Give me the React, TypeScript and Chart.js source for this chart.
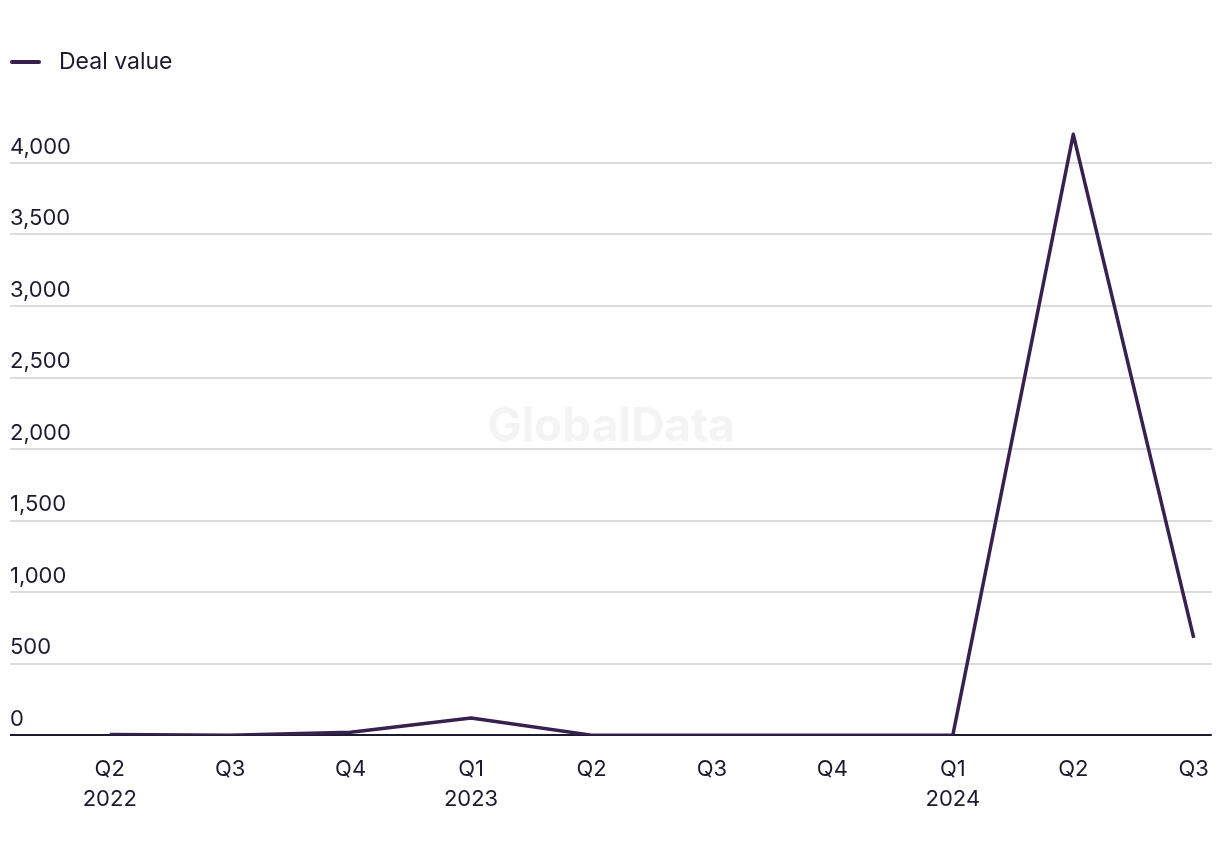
import React, { useEffect, useRef } from "react";
import { Chart, registerables } from "chart.js";

Chart.register(...registerables);

const quarters = ["Q2", "Q3", "Q4", "Q1", "Q2", "Q3", "Q4", "Q1", "Q2", "Q3"];
const years = ["2022", "", "", "2023", "", "", "", "2024", "", ""];
const dealValue = [5, 0, 20, 120, 0, 0, 0, 0, 4200, 680];
const yTickValues = [0, 500, 1000, 1500, 2000, 2500, 3000, 3500, 4000];
const seriesName = "Deal value";
const watermark = "GlobalData";

const LINE = "#36214f";
const TEXT = "#1c1b2e";
const GRID = "#dcdcdc";
const FONT = "Inter, 'Open Sans', sans-serif";

const legendPlugin = {
  id: "customLegend",
  afterDraw(chart: any) {
    const ctx = chart.ctx;
    ctx.save();
    ctx.strokeStyle = LINE;
    ctx.lineWidth = 4;
    ctx.lineCap = "round";
    ctx.beginPath();
    ctx.moveTo(12, 62);
    ctx.lineTo(39, 62);
    ctx.stroke();
    ctx.fillStyle = TEXT;
    ctx.font = `23px ${FONT}`;
    ctx.textBaseline = "middle";
    ctx.textAlign = "left";
    ctx.fillText(seriesName, 59, 62);
    ctx.restore();
  },
};

const watermarkPlugin = {
  id: "watermark",
  beforeDatasetsDraw(chart: any) {
    const { ctx, chartArea } = chart;
    ctx.save();
    ctx.fillStyle = "#f4f4f4";
    ctx.font = `bold 46px ${FONT}`;
    ctx.textAlign = "center";
    ctx.textBaseline = "middle";
    ctx.fillText(watermark, (chartArea.left + chartArea.right) / 2, (chartArea.top + chartArea.bottom) / 2);
    ctx.restore();
  },
};

export default function App() {
  const ref = useRef<HTMLCanvasElement | null>(null);

  useEffect(() => {
    document.body.style.margin = "0";
    if (!ref.current) return;
    const chart = new Chart(ref.current, {
      type: "line",
      data: {
        datasets: [
          {
            label: seriesName,
            data: dealValue.map((v, i) => ({ x: i, y: v })),
            borderColor: LINE,
            backgroundColor: LINE,
            borderWidth: 3.5,
            borderJoinStyle: "round",
            pointRadius: 0,
            tension: 0,
          },
        ],
      },
      options: {
        animation: false,
        responsive: true,
        maintainAspectRatio: false,
        layout: { padding: { top: 120, left: 10, right: 5, bottom: 31 } },
        plugins: {
          legend: { display: false },
          tooltip: { enabled: false },
        },
        scales: {
          x: {
            type: "linear",
            min: -0.828,
            max: 9.15,
            grid: { display: false },
            border: { display: false },
            afterBuildTicks: (scale: any) => {
              scale.ticks = quarters.map((_, i) => ({ value: i }));
            },
            ticks: {
              autoSkip: false,
              maxRotation: 0,
              padding: 11,
              color: TEXT,
              font: { family: FONT, size: 22, lineHeight: 1.36 },
              callback: (v: any) => {
                const i = Math.round(Number(v));
                return years[i] ? [quarters[i], years[i]] : quarters[i];
              },
            },
          },
          y: {
            min: 0,
            max: 4300,
            grid: {
              drawTicks: false,
              lineWidth: 2,
              color: (c: any) => (c.tick && c.tick.value === 0 ? TEXT : GRID),
            },
            border: { display: false },
            afterBuildTicks: (scale: any) => {
              scale.ticks = yTickValues.map((v) => ({ value: v }));
            },
            ticks: {
              mirror: true,
              padding: 0,
              labelOffset: -16,
              color: TEXT,
              font: { family: FONT, size: 22 },
              callback: (v: any) => Number(v).toLocaleString("en-US"),
            },
          },
        },
      },
      plugins: [legendPlugin, watermarkPlugin],
    });
    return () => chart.destroy();
  }, []);

  return (
    <div style={{ width: 1220, height: 856, position: "relative" }}>
      <canvas ref={ref} />
    </div>
  );
}
